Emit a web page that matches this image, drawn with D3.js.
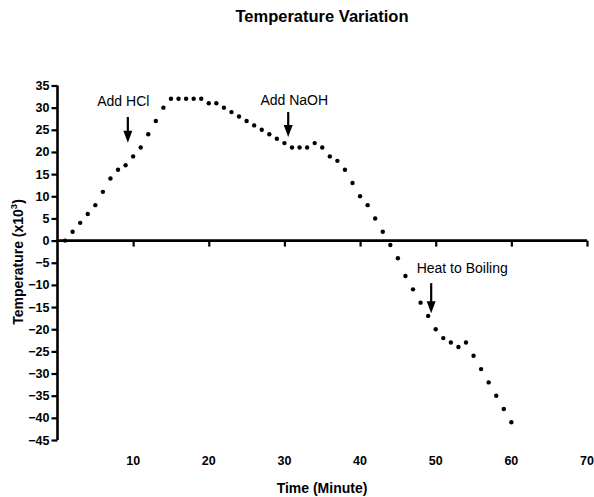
<!DOCTYPE html>
<html><head><meta charset="utf-8">
<script src="https://cdn.jsdelivr.net/npm/d3@7"></script>
<style>body{margin:0;background:#fff}svg{display:block}text{font-family:"Liberation Sans",Arial,sans-serif}</style>
</head><body>
<svg id="c" width="594" height="497"></svg>
<script>
const minutes = d3.range(1, 61);
const temps = [0,2,4,6,8,11,14,16,17,19,21,24,27,30,32,32,32,32,32,31,31,30,29,28,27,26,25,24,23,22,21,21,21,22,21,19,18,16,13,10,8,5,2,-1,-4,-8,-11,-14,-17,-20,-22,-23,-24,-23,-26,-29,-32,-35,-38,-41];
const xTicks = [10,20,30,40,50,60,70];
const yTicks = d3.range(-45, 40, 5);
const notes = [
  {label:"Add HCl", tx:8.7, ty:31.4, ax:9.3, y1:27.9, y2:22.1},
  {label:"Add NaOH", tx:31.3, ty:31.7, ax:30.5, y1:29, y2:23.4},
  {label:"Heat to Boiling", tx:53.5, ty:-6.1, ax:49.4, y1:-9.6, y2:-16.4}
];

const svg = d3.select("#c");
const x = d3.scaleLinear().domain([0,70]).range([57.5,587]);
const y = d3.scaleLinear().domain([-45,35]).range([440,85.5]);

// title
svg.append("text").attr("x",322).attr("y",22).attr("text-anchor","middle")
  .attr("font-weight","bold").attr("font-size",16.5).text("Temperature Variation");

// y axis
const ya = svg.append("g").attr("transform",`translate(${x(0)},0)`)
  .call(d3.axisLeft(y).tickValues(yTicks).tickSize(6).tickPadding(2).tickFormat(d3.format("d")));
ya.select(".domain").attr("stroke","#000").attr("stroke-width",2.6).attr("d",`M0,${y(35)}V${y(-45)}`);
ya.selectAll(".tick line").attr("stroke","#000").attr("stroke-width",2.2);
ya.selectAll(".tick text").attr("font-size",12.5).attr("font-weight","bold").attr("fill","#000")
  .attr("font-family",'"Liberation Sans",Arial,sans-serif');

// x axis at y=0 with ticks, labels at bottom
const xa = svg.append("g").attr("transform",`translate(0,${y(0)})`)
  .call(d3.axisBottom(x).tickValues(xTicks).tickSize(6).tickFormat(""));
xa.select(".domain").attr("stroke","#000").attr("stroke-width",2.6).attr("d",`M${x(0)},0H${x(70)}`);
xa.selectAll(".tick line").attr("stroke","#000").attr("stroke-width",2.2);
svg.append("g").selectAll("text").data(xTicks).join("text")
  .attr("x",d=>x(d)).attr("y",465).attr("text-anchor","middle")
  .attr("font-size",12.5).attr("font-weight","bold").text(d=>d);

// axis titles
svg.append("text").attr("x",322).attr("y",493).attr("text-anchor","middle")
  .attr("font-weight","bold").attr("font-size",14).text("Time (Minute)");
const yl = svg.append("text").attr("transform","translate(23,262) rotate(-90)")
  .attr("text-anchor","middle").attr("font-weight","bold").attr("font-size",14);
yl.append("tspan").text("Temperature (x10");
yl.append("tspan").attr("font-size",9.5).attr("dy",-6).text("3");
yl.append("tspan").attr("dy",6).text(")");

// points
svg.append("g").selectAll("circle").data(minutes).join("circle")
  .attr("cx",(d)=>x(d)).attr("cy",(d,i)=>y(temps[i])).attr("r",2.2).attr("fill","#000");

// annotations
const g = svg.append("g");
notes.forEach(n=>{
  g.append("text").attr("x",x(n.tx)).attr("y",y(n.ty)+5).attr("text-anchor","middle")
    .attr("font-size",14).text(n.label);
  const ax = x(n.ax), a1 = y(n.y1), a2 = y(n.y2);
  g.append("line").attr("x1",ax).attr("x2",ax).attr("y1",a1).attr("y2",a2-8)
    .attr("stroke","#000").attr("stroke-width",2.2);
  g.append("path").attr("d",`M${ax-4.5},${a2-12}L${ax+4.5},${a2-12}L${ax},${a2}Z`).attr("fill","#000");
});
</script>
</body></html>
